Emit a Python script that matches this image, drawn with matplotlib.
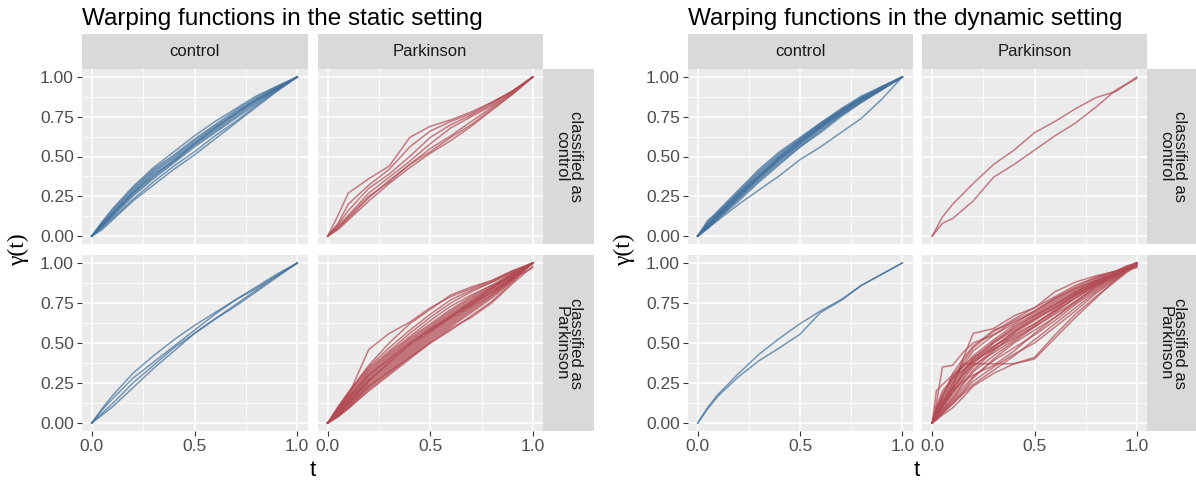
import matplotlib
matplotlib.use("Agg")
import matplotlib.pyplot as plt
from matplotlib.ticker import FixedLocator

# ---------------- data ----------------
titles = ["Warping functions in the static setting",
          "Warping functions in the dynamic setting"]
col_labels = ["control", "Parkinson"]
row_labels = ["classified as\ncontrol", "classified as\nParkinson"]
x_ticks = [0.0, 0.5, 1.0]
x_tick_labels = ["0.0", "0.5", "1.0"]
y_ticks = [0.0, 0.25, 0.5, 0.75, 1.0]
y_tick_labels = ["0.00", "0.25", "0.50", "0.75", "1.00"]

t_grid = [0, 0.05, 0.1, 0.2, 0.3, 0.4, 0.5, 0.6, 0.7, 0.8, 0.9, 1.0]
t_fine = [0, 0.02, 0.05, 0.1, 0.15, 0.2, 0.3, 0.4, 0.5, 0.6, 0.7, 0.8, 0.9, 0.95, 1.0]

# static setting: true control, classified as control
static_control_as_control = [
    [0, 0.09, 0.17, 0.31, 0.43, 0.53, 0.63, 0.72, 0.80, 0.88, 0.94, 1.0],
    [0, 0.08, 0.16, 0.30, 0.42, 0.51, 0.61, 0.70, 0.79, 0.87, 0.94, 1.0],
    [0, 0.08, 0.15, 0.29, 0.41, 0.50, 0.60, 0.69, 0.78, 0.86, 0.93, 1.0],
    [0, 0.07, 0.14, 0.28, 0.40, 0.49, 0.59, 0.68, 0.77, 0.86, 0.93, 1.0],
    [0, 0.07, 0.14, 0.27, 0.38, 0.48, 0.58, 0.67, 0.76, 0.85, 0.93, 1.0],
    [0, 0.06, 0.13, 0.26, 0.37, 0.47, 0.57, 0.66, 0.75, 0.84, 0.92, 1.0],
    [0, 0.06, 0.12, 0.25, 0.36, 0.46, 0.56, 0.65, 0.74, 0.83, 0.92, 1.0],
    [0, 0.05, 0.11, 0.23, 0.34, 0.44, 0.53, 0.63, 0.72, 0.82, 0.91, 1.0],
    [0, 0.04, 0.10, 0.22, 0.32, 0.42, 0.51, 0.61, 0.71, 0.81, 0.91, 1.0],
    [0, 0.07, 0.13, 0.27, 0.39, 0.47, 0.58, 0.68, 0.77, 0.85, 0.92, 1.0],
]
# static setting: true Parkinson, classified as control
static_parkinson_as_control = [
    [0, 0.13, 0.27, 0.36, 0.44, 0.62, 0.69, 0.73, 0.78, 0.84, 0.91, 1.0],
    [0, 0.08, 0.20, 0.32, 0.42, 0.56, 0.66, 0.72, 0.77, 0.84, 0.91, 1.0],
    [0, 0.07, 0.16, 0.30, 0.39, 0.50, 0.62, 0.70, 0.76, 0.83, 0.91, 1.0],
    [0, 0.06, 0.13, 0.27, 0.37, 0.47, 0.58, 0.68, 0.75, 0.82, 0.90, 1.0],
    [0, 0.05, 0.11, 0.24, 0.35, 0.45, 0.55, 0.63, 0.72, 0.81, 0.90, 1.0],
    [0, 0.04, 0.10, 0.22, 0.33, 0.43, 0.52, 0.60, 0.69, 0.79, 0.89, 1.0],
    [0, 0.05, 0.12, 0.25, 0.34, 0.45, 0.53, 0.62, 0.70, 0.80, 0.89, 1.0],
]
# static setting: true control, classified as Parkinson
static_control_as_parkinson = [
    [0, 0.09, 0.17, 0.31, 0.42, 0.52, 0.61, 0.69, 0.77, 0.85, 0.93, 1.0],
    [0, 0.08, 0.15, 0.28, 0.38, 0.48, 0.58, 0.68, 0.77, 0.84, 0.92, 1.0],
    [0, 0.06, 0.12, 0.25, 0.36, 0.47, 0.56, 0.65, 0.74, 0.83, 0.92, 1.0],
    [0, 0.05, 0.10, 0.22, 0.34, 0.45, 0.56, 0.65, 0.73, 0.82, 0.91, 1.0],
]
# static setting: true Parkinson, classified as Parkinson
static_parkinson_as_parkinson = [
    [0, 0.09, 0.17, 0.46, 0.56, 0.63, 0.72, 0.79, 0.84, 0.89, 0.95, 1.0],
    [0, 0.10, 0.19, 0.36, 0.50, 0.62, 0.71, 0.80, 0.85, 0.89, 0.95, 1.0],
    [0, 0.10, 0.19, 0.35, 0.47, 0.58, 0.68, 0.77, 0.83, 0.88, 0.94, 1.0],
    [0, 0.09, 0.18, 0.34, 0.45, 0.56, 0.66, 0.75, 0.82, 0.88, 0.94, 1.0],
    [0, 0.08, 0.17, 0.33, 0.44, 0.54, 0.64, 0.73, 0.80, 0.86, 0.93, 1.0],
    [0, 0.08, 0.16, 0.32, 0.43, 0.53, 0.62, 0.71, 0.79, 0.86, 0.93, 1.0],
    [0, 0.07, 0.15, 0.31, 0.42, 0.52, 0.61, 0.70, 0.78, 0.85, 0.93, 1.0],
    [0, 0.07, 0.15, 0.30, 0.41, 0.51, 0.60, 0.69, 0.77, 0.85, 0.92, 1.0],
    [0, 0.07, 0.14, 0.29, 0.40, 0.50, 0.59, 0.68, 0.76, 0.84, 0.92, 1.0],
    [0, 0.06, 0.14, 0.28, 0.39, 0.49, 0.58, 0.67, 0.76, 0.84, 0.92, 1.0],
    [0, 0.06, 0.13, 0.27, 0.38, 0.48, 0.57, 0.66, 0.75, 0.83, 0.91, 1.0],
    [0, 0.06, 0.13, 0.27, 0.37, 0.47, 0.57, 0.66, 0.74, 0.82, 0.91, 1.0],
    [0, 0.05, 0.12, 0.26, 0.36, 0.46, 0.56, 0.65, 0.73, 0.82, 0.91, 1.0],
    [0, 0.05, 0.12, 0.25, 0.35, 0.45, 0.55, 0.64, 0.73, 0.81, 0.90, 1.0],
    [0, 0.05, 0.11, 0.24, 0.34, 0.44, 0.54, 0.63, 0.72, 0.80, 0.90, 1.0],
    [0, 0.05, 0.11, 0.23, 0.33, 0.43, 0.53, 0.62, 0.71, 0.80, 0.90, 1.0],
    [0, 0.04, 0.10, 0.22, 0.32, 0.42, 0.52, 0.61, 0.70, 0.79, 0.89, 1.0],
    [0, 0.04, 0.09, 0.21, 0.31, 0.41, 0.51, 0.60, 0.69, 0.78, 0.89, 1.0],
    [0, 0.04, 0.09, 0.20, 0.30, 0.40, 0.50, 0.58, 0.67, 0.76, 0.88, 1.0],
    [0, 0.05, 0.10, 0.23, 0.32, 0.41, 0.50, 0.59, 0.66, 0.75, 0.87, 0.98],
    [0, 0.06, 0.12, 0.26, 0.38, 0.49, 0.59, 0.67, 0.75, 0.82, 0.90, 0.97],
    [0, 0.08, 0.16, 0.30, 0.40, 0.50, 0.58, 0.66, 0.74, 0.84, 0.93, 1.0],
]
# dynamic setting: true control, classified as control
dynamic_control_as_control = [
    [0, 0.09, 0.16, 0.29, 0.42, 0.53, 0.62, 0.71, 0.80, 0.88, 0.94, 1.0],
    [0, 0.08, 0.15, 0.28, 0.41, 0.52, 0.61, 0.71, 0.79, 0.87, 0.94, 1.0],
    [0, 0.10, 0.15, 0.27, 0.40, 0.51, 0.61, 0.70, 0.79, 0.87, 0.93, 1.0],
    [0, 0.07, 0.14, 0.27, 0.39, 0.50, 0.60, 0.69, 0.78, 0.86, 0.93, 1.0],
    [0, 0.07, 0.13, 0.26, 0.38, 0.49, 0.59, 0.69, 0.78, 0.86, 0.93, 1.0],
    [0, 0.06, 0.13, 0.25, 0.37, 0.48, 0.58, 0.68, 0.77, 0.85, 0.93, 1.0],
    [0, 0.06, 0.12, 0.24, 0.36, 0.47, 0.57, 0.67, 0.76, 0.85, 0.92, 1.0],
    [0, 0.05, 0.11, 0.23, 0.35, 0.46, 0.56, 0.66, 0.76, 0.84, 0.92, 1.0],
    [0, 0.05, 0.11, 0.22, 0.34, 0.45, 0.56, 0.65, 0.75, 0.84, 0.92, 1.0],
    [0, 0.08, 0.14, 0.26, 0.38, 0.50, 0.60, 0.70, 0.79, 0.87, 0.93, 1.0],
    [0, 0.07, 0.13, 0.25, 0.37, 0.49, 0.59, 0.69, 0.78, 0.86, 0.93, 1.0],
    [0, 0.06, 0.12, 0.24, 0.37, 0.48, 0.58, 0.68, 0.77, 0.86, 0.93, 1.0],
    [0, 0.05, 0.10, 0.20, 0.29, 0.38, 0.48, 0.56, 0.65, 0.74, 0.86, 1.0],
]
# dynamic setting: true Parkinson, classified as control
dynamic_parkinson_as_control = [
    [0, 0.12, 0.20, 0.33, 0.45, 0.54, 0.65, 0.72, 0.80, 0.87, 0.91, 1.0],
    [0, 0.08, 0.11, 0.22, 0.37, 0.45, 0.54, 0.63, 0.71, 0.81, 0.92, 0.99],
]
# dynamic setting: true control, classified as Parkinson
dynamic_control_as_parkinson = [
    [0, 0.10, 0.18, 0.31, 0.43, 0.53, 0.62, 0.70, 0.77, 0.86, 0.93, 1.0],
    [0, 0.09, 0.17, 0.29, 0.39, 0.47, 0.555, 0.69, 0.765, 0.86, 0.93, 1.0],
]
# dynamic setting: true Parkinson, classified as Parkinson (on t_fine)
dynamic_parkinson_as_parkinson = [
    [0, 0.12, 0.35, 0.36, 0.44, 0.50, 0.55, 0.62, 0.70, 0.78, 0.84, 0.89, 0.94, 0.97, 1.0],
    [0, 0.05, 0.12, 0.25, 0.37, 0.37, 0.37, 0.37, 0.40, 0.53, 0.66, 0.78, 0.90, 0.95, 1.0],
    [0, 0.06, 0.13, 0.22, 0.40, 0.56, 0.59, 0.67, 0.72, 0.82, 0.88, 0.92, 0.95, 0.97, 1.0],
    [0, 0.08, 0.18, 0.28, 0.36, 0.45, 0.55, 0.64, 0.70, 0.78, 0.85, 0.91, 0.95, 0.97, 1.0],
    [0, 0.20, 0.24, 0.30, 0.35, 0.41, 0.50, 0.58, 0.66, 0.74, 0.82, 0.89, 0.94, 0.97, 1.0],
    [0, 0.04, 0.10, 0.20, 0.30, 0.38, 0.50, 0.60, 0.67, 0.75, 0.82, 0.88, 0.94, 0.97, 1.0],
    [0, 0.03, 0.08, 0.16, 0.25, 0.33, 0.45, 0.56, 0.64, 0.72, 0.80, 0.87, 0.93, 0.96, 0.99],
    [0, 0.04, 0.09, 0.18, 0.27, 0.35, 0.46, 0.54, 0.62, 0.70, 0.79, 0.86, 0.93, 0.96, 1.0],
    [0, 0.05, 0.11, 0.21, 0.31, 0.40, 0.51, 0.59, 0.67, 0.74, 0.81, 0.88, 0.94, 0.96, 1.0],
    [0, 0.03, 0.07, 0.14, 0.22, 0.29, 0.39, 0.47, 0.55, 0.64, 0.74, 0.83, 0.91, 0.95, 0.98],
    [0, 0.02, 0.05, 0.095, 0.16, 0.23, 0.31, 0.37, 0.41, 0.55, 0.68, 0.79, 0.89, 0.94, 0.98],
    [0, 0.03, 0.06, 0.12, 0.19, 0.26, 0.35, 0.43, 0.50, 0.60, 0.70, 0.81, 0.90, 0.95, 0.99],
    [0, 0.06, 0.14, 0.25, 0.33, 0.40, 0.48, 0.55, 0.62, 0.70, 0.78, 0.86, 0.93, 0.97, 1.0],
    [0, 0.07, 0.15, 0.27, 0.35, 0.42, 0.52, 0.61, 0.68, 0.76, 0.83, 0.89, 0.94, 0.97, 1.0],
    [0, 0.10, 0.20, 0.28, 0.33, 0.38, 0.47, 0.57, 0.65, 0.73, 0.81, 0.88, 0.94, 0.97, 1.0],
    [0, 0.04, 0.08, 0.15, 0.24, 0.32, 0.42, 0.51, 0.60, 0.69, 0.78, 0.86, 0.93, 0.96, 0.98],
    [0, 0.05, 0.12, 0.23, 0.32, 0.39, 0.46, 0.53, 0.60, 0.68, 0.76, 0.85, 0.92, 0.96, 1.0],
    [0, 0.03, 0.07, 0.13, 0.20, 0.28, 0.40, 0.50, 0.58, 0.66, 0.75, 0.84, 0.92, 0.96, 0.99],
    [0, 0.09, 0.17, 0.29, 0.38, 0.47, 0.57, 0.65, 0.72, 0.79, 0.86, 0.91, 0.95, 0.98, 1.0],
    [0, 0.02, 0.06, 0.12, 0.18, 0.24, 0.33, 0.42, 0.52, 0.62, 0.72, 0.82, 0.91, 0.95, 0.99],
    [0, 0.06, 0.12, 0.22, 0.30, 0.36, 0.44, 0.52, 0.61, 0.71, 0.80, 0.87, 0.93, 0.96, 0.97],
    [0, 0.08, 0.16, 0.31, 0.40, 0.48, 0.58, 0.63, 0.69, 0.77, 0.84, 0.90, 0.95, 0.98, 1.0],
    [0, 0.05, 0.10, 0.19, 0.28, 0.37, 0.48, 0.57, 0.65, 0.72, 0.80, 0.87, 0.93, 0.96, 0.99],
    [0, 0.04, 0.11, 0.20, 0.26, 0.30, 0.36, 0.45, 0.56, 0.66, 0.76, 0.85, 0.92, 0.96, 1.0],
]

settings = [
    {  # static
        (0, 0): (t_grid, static_control_as_control),
        (0, 1): (t_grid, static_parkinson_as_control),
        (1, 0): (t_grid, static_control_as_parkinson),
        (1, 1): (t_grid, static_parkinson_as_parkinson),
    },
    {  # dynamic
        (0, 0): (t_grid, dynamic_control_as_control),
        (0, 1): (t_grid, dynamic_parkinson_as_control),
        (1, 0): (t_grid, dynamic_control_as_parkinson),
        (1, 1): (t_fine, dynamic_parkinson_as_parkinson),
    },
]

col_colors = ["#41709C", "#B24A52"]

# ---------------- layout ----------------
W, H = 1196, 480
fig = plt.figure(figsize=(W / 100, H / 100), dpi=100)
fig.patch.set_facecolor("white")


def box(x0, x1, y0, y1):
    return [x0 / W, 1 - y1 / H, (x1 - x0) / W, (y1 - y0) / H]


panel_x = [[(81.5, 307.5), (317.5, 543)], [(687.5, 912.5), (922, 1147)]]
strip_right_x = [(543, 594), (1147, 1198)]
row_y = [(69, 244), (255, 431)]
strip_top_y = (34, 69)
title_x = [82, 688]

BG = "#EBEBEB"
STRIP = "#D9D9D9"
FONT = "Liberation Sans"

for s in range(2):
    for r in range(2):
        for c in range(2):
            x0, x1 = panel_x[s][c]
            y0, y1 = row_y[r]
            ax = fig.add_axes(box(x0, x1, y0, y1))
            ax.set_facecolor(BG)
            for sp in ax.spines.values():
                sp.set_visible(False)
            ax.set_xlim(-0.05, 1.05)
            ax.set_ylim(-0.05, 1.05)
            ax.xaxis.set_major_locator(FixedLocator(x_ticks))
            ax.xaxis.set_minor_locator(FixedLocator([0.25, 0.75]))
            ax.yaxis.set_major_locator(FixedLocator(y_ticks))
            ax.yaxis.set_minor_locator(FixedLocator([0.125, 0.375, 0.625, 0.875]))
            ax.grid(which="major", color="white", lw=1.2)
            ax.grid(which="minor", color="white", lw=0.6)
            ax.set_axisbelow(True)
            ax.tick_params(which="minor", length=0)
            ax.tick_params(which="major", length=3.5, width=0.8, color="#333333",
                           labelcolor="#4D4D4D", labelsize=12.5, pad=2)
            if c == 0:
                ax.set_yticklabels(y_tick_labels, fontfamily=FONT)
            else:
                ax.tick_params(axis="y", length=0, labelleft=False)
            if r == 1:
                ax.set_xticklabels(x_tick_labels, fontfamily=FONT)
            else:
                ax.tick_params(axis="x", length=0, labelbottom=False)
            tt, curves = settings[s][(r, c)]
            for yv in curves:
                ax.plot(tt, yv, color=col_colors[c], alpha=0.7, lw=1.1,
                        solid_joinstyle="round")

        # right strip
        sx0, sx1 = strip_right_x[s]
        y0, y1 = row_y[r]
        sax = fig.add_axes(box(sx0, sx1, y0, y1))
        sax.set_facecolor(STRIP)
        sax.set_xticks([]); sax.set_yticks([])
        for sp in sax.spines.values():
            sp.set_visible(False)
        sax.text(0.5, 0.5, row_labels[r], rotation=-90,
                 ha="center", va="center", fontsize=12, color="#1A1A1A",
                 family=FONT, linespacing=0.95, transform=sax.transAxes)

    # top strips
    for c in range(2):
        x0, x1 = panel_x[s][c]
        tax = fig.add_axes(box(x0, x1, *strip_top_y))
        tax.set_facecolor(STRIP)
        tax.set_xticks([]); tax.set_yticks([])
        for sp in tax.spines.values():
            sp.set_visible(False)
        tax.text(0.5, 0.5, col_labels[c], ha="center", va="center", fontsize=12,
                 color="#1A1A1A", family=FONT, transform=tax.transAxes)

    # titles
    fig.text(title_x[s] / W, 1 - 25 / H, titles[s], fontsize=17.5, family=FONT,
             ha="left", va="baseline", color="black")
    # axis labels
    xc = (panel_x[s][0][0] + panel_x[s][1][1]) / 2
    fig.text(xc / W, 1 - 470 / H, "t", fontsize=16, family=FONT,
             ha="center", va="center", color="black")
    ylx = 18 if s == 0 else 624
    fig.text(ylx / W, 1 - 250 / H, "γ(t)", fontsize=17, family="Liberation Serif",
             rotation=90, ha="center", va="center", color="black")

fig.savefig("out.png", dpi=100)
